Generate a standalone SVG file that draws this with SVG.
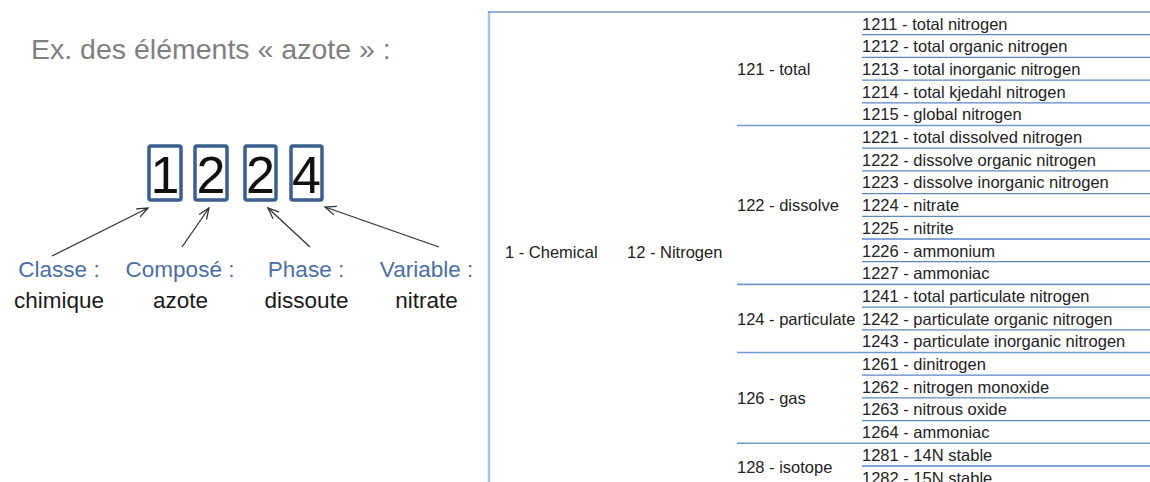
<svg xmlns="http://www.w3.org/2000/svg" width="1150" height="482" viewBox="0 0 1150 482">
  <style>
    text { font-family: "Liberation Sans", Arial, sans-serif; }
    .title { font-size: 28.5px; fill: #7f7f7f; }
    .digit { font-size: 52px; fill: #111111; text-anchor: middle; }
    .box { fill: #ffffff; stroke: #3b5f8d; stroke-width: 3.5; }
    .lbl { font-size: 22.5px; fill: #4a6fa5; text-anchor: middle; }
    .val { font-size: 22.5px; fill: #1a1a1a; text-anchor: middle; }
    .cell { font-size: 16.5px; fill: #222222; }
    .arrow { stroke: #333333; stroke-width: 1.3; fill: none; marker-end: url(#head); }
    .rowline { stroke: #5a87c8; stroke-width: 1.3; }
    .sep { stroke: #6f98d0; stroke-width: 1.6; }
    .vline { stroke: #a8c2e6; stroke-width: 2.5; }
  </style>
  <defs>
    <marker id="head" markerUnits="userSpaceOnUse" markerWidth="14" markerHeight="12" refX="12" refY="6" orient="auto">
      <path d="M1,1.5 L12,6 L1,10.5" fill="none" stroke="#333333" stroke-width="1.3"/>
    </marker>
  </defs>

  <!-- heading -->
  <g id="title">
    <text class="title" x="31" y="59">Ex. des éléments « azote » :</text>
  </g>

  <!-- code digits -->
  <g id="digit-1">
    <rect class="box" x="149" y="146" width="32" height="54" rx="2"/>
    <text class="digit" x="165" y="193">1</text>
  </g>
  <g id="digit-2">
    <rect class="box" x="195" y="146" width="32" height="54" rx="2"/>
    <text class="digit" x="211" y="193">2</text>
  </g>
  <g id="digit-3">
    <rect class="box" x="245" y="146" width="31" height="54" rx="2"/>
    <text class="digit" x="260.5" y="193">2</text>
  </g>
  <g id="digit-4">
    <rect class="box" x="291" y="146" width="31" height="54" rx="2"/>
    <text class="digit" x="306.5" y="193">4</text>
  </g>

  <!-- labels under the digits -->
  <g id="label-classe">
    <text class="lbl" x="59" y="277">Classe :</text>
    <text class="val" x="59" y="308">chimique</text>
  </g>
  <g id="label-compose">
    <text class="lbl" x="180" y="277">Composé :</text>
    <text class="val" x="180.5" y="308">azote</text>
  </g>
  <g id="label-phase">
    <text class="lbl" x="306" y="277">Phase :</text>
    <text class="val" x="306.5" y="308">dissoute</text>
  </g>
  <g id="label-variable">
    <text class="lbl" x="426.5" y="277">Variable :</text>
    <text class="val" x="426.5" y="308">nitrate</text>
  </g>

  <!-- connectors -->
  <g id="connectors">
    <line class="arrow" x1="52" y1="256" x2="148" y2="208"/>
    <line class="arrow" x1="182" y1="247" x2="209" y2="208"/>
    <line class="arrow" x1="310" y1="247" x2="268" y2="208"/>
    <line class="arrow" x1="439" y1="247" x2="325" y2="207"/>
  </g>

  <!-- classification table -->
  <g id="table-grid">
    <line class="vline" x1="489" y1="11" x2="489" y2="482"/>
    <line class="sep" x1="488" y1="12" x2="1150" y2="12"/>
    <!-- item rows -->
    <line class="rowline" x1="862" y1="34.7" x2="1150" y2="34.7"/>
    <line class="rowline" x1="862" y1="57.4" x2="1150" y2="57.4"/>
    <line class="rowline" x1="862" y1="80.1" x2="1150" y2="80.1"/>
    <line class="rowline" x1="862" y1="102.8" x2="1150" y2="102.8"/>
    <line class="rowline" x1="862" y1="148.2" x2="1150" y2="148.2"/>
    <line class="rowline" x1="862" y1="170.9" x2="1150" y2="170.9"/>
    <line class="rowline" x1="862" y1="193.6" x2="1150" y2="193.6"/>
    <line class="rowline" x1="862" y1="216.3" x2="1150" y2="216.3"/>
    <line class="rowline" x1="862" y1="239" x2="1150" y2="239"/>
    <line class="rowline" x1="862" y1="261.7" x2="1150" y2="261.7"/>
    <line class="rowline" x1="862" y1="307.1" x2="1150" y2="307.1"/>
    <line class="rowline" x1="862" y1="329.8" x2="1150" y2="329.8"/>
    <line class="rowline" x1="862" y1="375.2" x2="1150" y2="375.2"/>
    <line class="rowline" x1="862" y1="397.9" x2="1150" y2="397.9"/>
    <line class="rowline" x1="862" y1="420.6" x2="1150" y2="420.6"/>
    <line class="rowline" x1="862" y1="466" x2="1150" y2="466"/>
    <!-- group separators -->
    <line class="sep" x1="737" y1="125.5" x2="1150" y2="125.5"/>
    <line class="sep" x1="737" y1="284.4" x2="1150" y2="284.4"/>
    <line class="sep" x1="737" y1="352.5" x2="1150" y2="352.5"/>
    <line class="sep" x1="737" y1="443.3" x2="1150" y2="443.3"/>
  </g>

  <g id="level-1">
    <text class="cell" x="505" y="258">1 - Chemical</text>
  </g>
  <g id="level-2">
    <text class="cell" x="627" y="258">12 - Nitrogen</text>
  </g>

  <g id="group-121">
    <text class="cell" x="737" y="75">121 - total</text>
    <text class="cell" x="862" y="29.5">1211 - total nitrogen</text>
    <text class="cell" x="862" y="52.2">1212 - total organic nitrogen</text>
    <text class="cell" x="862" y="74.9">1213 - total inorganic nitrogen</text>
    <text class="cell" x="862" y="97.6">1214 - total kjedahl nitrogen</text>
    <text class="cell" x="862" y="120.3">1215 - global nitrogen</text>
  </g>
  <g id="group-122">
    <text class="cell" x="737" y="211">122 - dissolve</text>
    <text class="cell" x="862" y="143">1221 - total dissolved nitrogen</text>
    <text class="cell" x="862" y="165.7">1222 - dissolve organic nitrogen</text>
    <text class="cell" x="862" y="188.4">1223 - dissolve inorganic nitrogen</text>
    <text class="cell" x="862" y="211.1">1224 - nitrate</text>
    <text class="cell" x="862" y="233.8">1225 - nitrite</text>
    <text class="cell" x="862" y="256.5">1226 - ammonium</text>
    <text class="cell" x="862" y="279.2">1227 - ammoniac</text>
  </g>
  <g id="group-124">
    <text class="cell" x="737" y="324.5">124 - particulate</text>
    <text class="cell" x="862" y="301.9">1241 - total particulate nitrogen</text>
    <text class="cell" x="862" y="324.6">1242 - particulate organic nitrogen</text>
    <text class="cell" x="862" y="347.3">1243 - particulate inorganic nitrogen</text>
  </g>
  <g id="group-126">
    <text class="cell" x="737" y="404">126 - gas</text>
    <text class="cell" x="862" y="370">1261 - dinitrogen</text>
    <text class="cell" x="862" y="392.7">1262 - nitrogen monoxide</text>
    <text class="cell" x="862" y="415.4">1263 - nitrous oxide</text>
    <text class="cell" x="862" y="438.1">1264 - ammoniac</text>
  </g>
  <g id="group-128">
    <text class="cell" x="737" y="473">128 - isotope</text>
    <text class="cell" x="862" y="460.8">1281 - 14N stable</text>
    <text class="cell" x="862" y="483.5">1282 - 15N stable</text>
  </g>
</svg>
